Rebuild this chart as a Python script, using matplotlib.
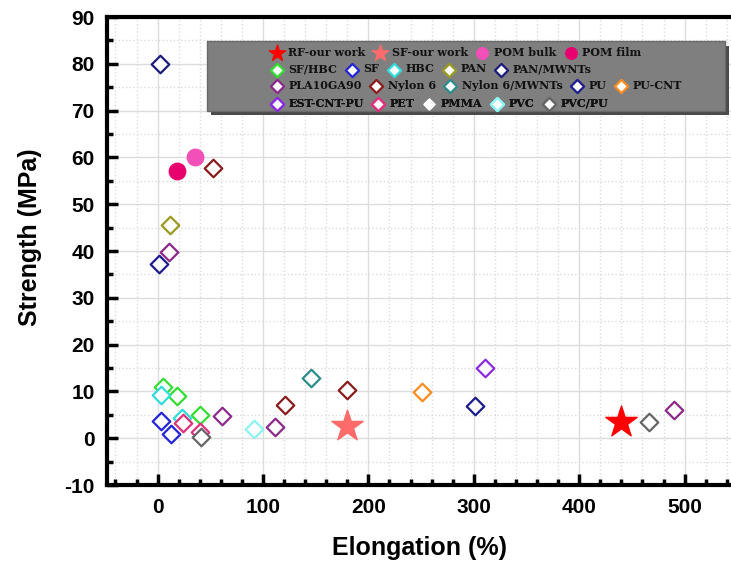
import matplotlib
matplotlib.use("Agg")
import matplotlib.pyplot as plt
from matplotlib.patches import Rectangle
from matplotlib.ticker import MultipleLocator

# data: (elongation %, strength MPa)
rf_x = [440]; rf_y = [3.5]
sf_our_x = [180]; sf_our_y = [2.7]
pom_bulk_x = [35]; pom_bulk_y = [60]
pom_film_x = [18]; pom_film_y = [57]
sfhbc_x = [5, 18, 40]; sfhbc_y = [11, 9, 5]
sf_x = [3, 13]; sf_y = [3.7, 0.8]
hbc_x = [3, 23]; hbc_y = [9.3, 4.4]
pan_x = [12]; pan_y = [45.5]
pan_mwnt_x = [2]; pan_mwnt_y = [80]
pla_x = [11, 61, 111, 490]; pla_y = [39.7, 4.8, 2.4, 6]
nylon_x = [53, 121, 180]; nylon_y = [57.8, 7, 10.3]
nylon_mwnt_x = [146]; nylon_mwnt_y = [12.8]
pu_x = [1, 301]; pu_y = [37.2, 6.8]
pucnt_x = [251]; pucnt_y = [9.8]
est_x = [311]; est_y = [14.9]
pet_x = [24, 40]; pet_y = [3.3, 1.4]
pmma_x = []; pmma_y = []
pvc_x = [91]; pvc_y = [2]
pvcpu_x = [41, 466]; pvcpu_y = [0.2, 3.5]

plt.rcParams["font.family"] = "Liberation Sans"
plt.rcParams["axes.unicode_minus"] = False
fig = plt.figure(figsize=(7.31, 5.69), dpi=100)
ax = fig.add_axes([0.1464, 0.1476, 0.8536, 0.8225])

h = {}
h["RF-our work"] = ax.scatter(rf_x, rf_y, marker="*", s=560, color="#ff0000", zorder=5)
h["SF-our work"] = ax.scatter(sf_our_x, sf_our_y, marker="*", s=560, color="#ff6b6b", zorder=5)
h["POM bulk"] = ax.scatter(pom_bulk_x, pom_bulk_y, marker="o", s=140, color="#f24fb8", zorder=5)
h["POM film"] = ax.scatter(pom_film_x, pom_film_y, marker="o", s=140, color="#e8006f", zorder=5)

diamonds = [
    ("SF/HBC", sfhbc_x, sfhbc_y, "#33dd33"),
    ("SF", sf_x, sf_y, "#2424d8"),
    ("HBC", hbc_x, hbc_y, "#33dcdc"),
    ("PAN", pan_x, pan_y, "#9a9a22"),
    ("PAN/MWNTs", pan_mwnt_x, pan_mwnt_y, "#1c1c7a"),
    ("PLA10GA90", pla_x, pla_y, "#8b2a8b"),
    ("Nylon 6", nylon_x, nylon_y, "#8b1c1c"),
    ("Nylon 6/MWNTs", nylon_mwnt_x, nylon_mwnt_y, "#2e8b8b"),
    ("PU", pu_x, pu_y, "#1c1c8c"),
    ("PU-CNT", pucnt_x, pucnt_y, "#ff8a1e"),
    ("EST-CNT-PU", est_x, est_y, "#8a2be2"),
    ("PET", pet_x, pet_y, "#e0307a"),
    ("PMMA", pmma_x, pmma_y, "#ffffff"),
    ("PVC", pvc_x, pvc_y, "#8ef2f2"),
    ("PVC/PU", pvcpu_x, pvcpu_y, "#666666"),
]
for name, x, y, c in diamonds:
    h[name] = ax.scatter(x, y, marker="D", s=80, facecolor="white", edgecolor=c,
                         linewidth=1.6, zorder=4)

ax.set_xlim(-48, 544)
ax.set_ylim(-10, 90)
ax.xaxis.set_major_locator(MultipleLocator(100))
ax.xaxis.set_minor_locator(MultipleLocator(20))
ax.yaxis.set_major_locator(MultipleLocator(10))
ax.yaxis.set_minor_locator(MultipleLocator(5))
ax.grid(which="major", color="#dcdcdc", linewidth=1.0, zorder=0)
ax.grid(which="minor", color="#dcdcdc", linestyle=":", linewidth=1.0, zorder=0)
ax.set_axisbelow(True)

ax.tick_params(which="both", direction="in", top=False, right=False, width=2.5)
ax.tick_params(which="major", length=8, pad=9, labelsize=15)
ax.tick_params(which="minor", length=4)
for lbl in ax.get_xticklabels() + ax.get_yticklabels():
    lbl.set_fontweight("bold")
for side in ["left", "bottom", "top"]:
    ax.spines[side].set_linewidth(3)
ax.spines["right"].set_visible(False)

ax.set_xlabel("Elongation (%)", fontsize=18, fontweight="bold", labelpad=14)
ax.set_ylabel("Strength (MPa)", fontsize=18, fontweight="bold")
ax.yaxis.set_label_coords(-0.105, 0.53)

# grey legend box with shadow, Origin style
ax.add_patch(Rectangle((0.166, 0.79), 0.83, 0.149, transform=ax.transAxes,
                       facecolor="#4a4a4a", edgecolor="none", zorder=6))
ax.add_patch(Rectangle((0.160, 0.799), 0.83, 0.149, transform=ax.transAxes,
                       facecolor="#7f7f7f", edgecolor="#6a6a6a", zorder=7))

rows = [
    ["RF-our work", "SF-our work", "POM bulk", "POM film"],
    ["SF/HBC", "SF", "HBC", "PAN", "PAN/MWNTs"],
    ["PLA10GA90", "Nylon 6", "Nylon 6/MWNTs", "PU", "PU-CNT"],
    ["EST-CNT-PU", "PET", "PMMA", "PVC", "PVC/PU"],
]
row_y = [0.925, 0.889, 0.853, 0.816]
for names, yy in zip(rows, row_y):
    leg = ax.legend([h[n] for n in names], names, loc="center left",
                    bbox_to_anchor=(0.262, yy), ncol=len(names), frameon=False,
                    prop={"family": "DejaVu Serif", "weight": "bold", "size": 8},
                    handlelength=1.1, handletextpad=0.5, columnspacing=0.75,
                    borderpad=0, borderaxespad=0, labelcolor="#111111")
    for n, lh in zip(names, leg.legend_handles):
        if n.endswith("our work"):
            lh.set_sizes([150])
        elif n.startswith("POM"):
            lh.set_sizes([70])
        elif n == "PMMA":
            lh.set_sizes([25])
        else:
            lh.set_sizes([45])
    leg.set_zorder(8)
    ax.add_artist(leg)

fig.savefig("out.png", dpi=100)
